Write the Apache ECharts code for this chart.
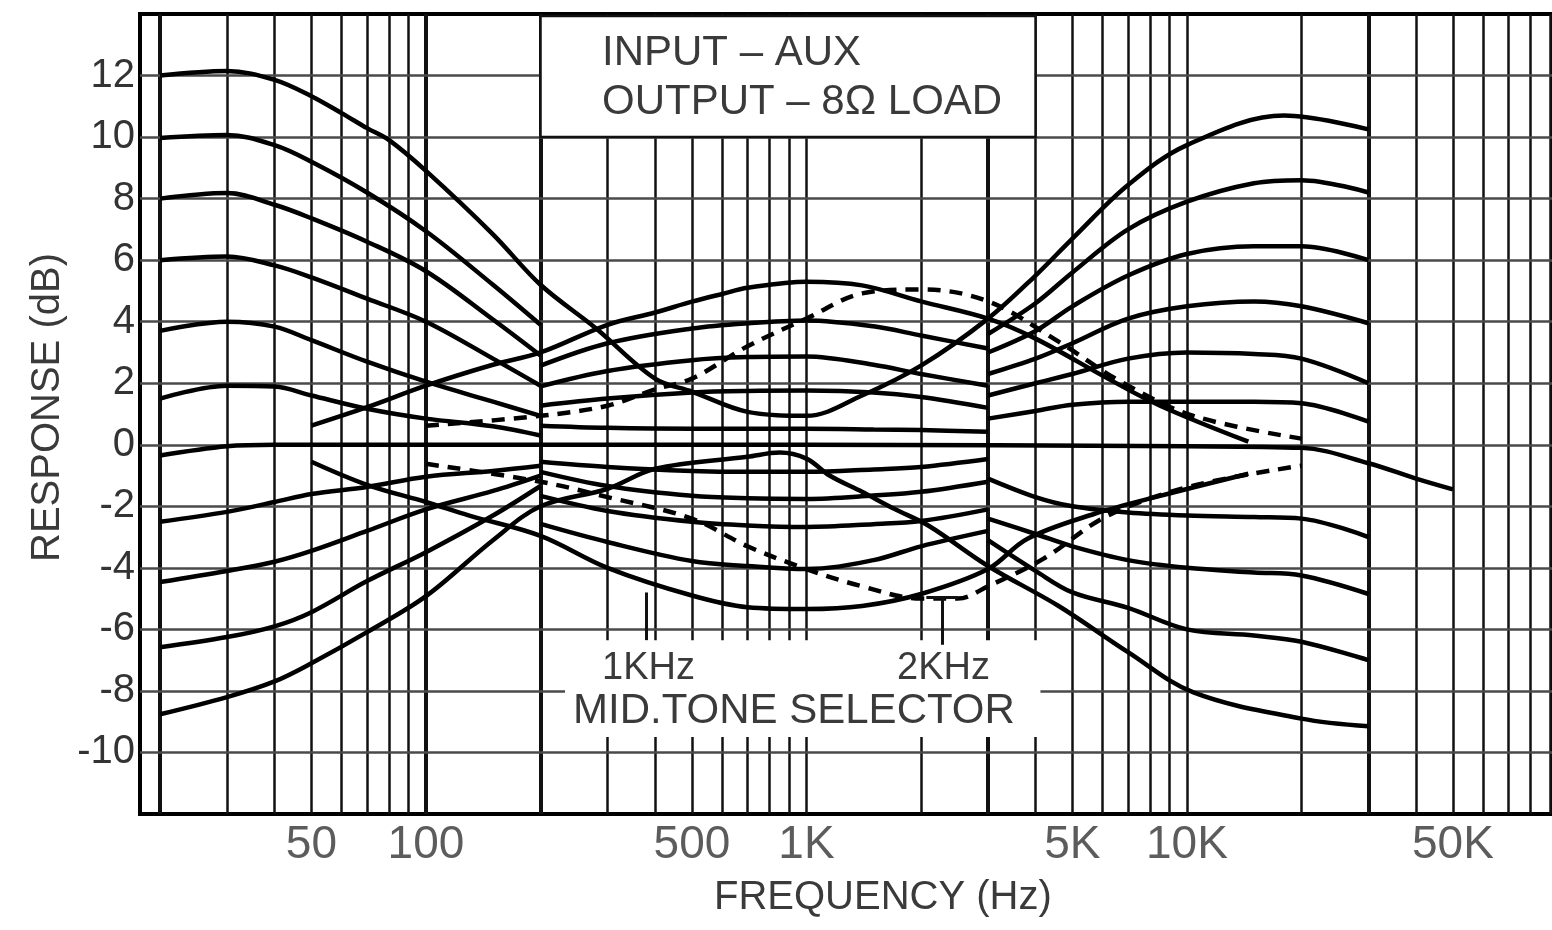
<!DOCTYPE html>
<html><head><meta charset="utf-8">
<script src="https://cdn.jsdelivr.net/npm/echarts@6/dist/echarts.min.js"></script>
<style>html,body{margin:0;padding:0;background:#fff}#c{width:1552px;height:930px}</style>
</head><body><div id="c"></div>
<script>
// ---------- axis / grid data ----------
const xTickValues = [50, 100, 500, 1000, 5000, 10000, 50000];
const xTickLabels = ['50', '100', '500', '1K', '5K', '10K', '50K'];
const gridFreqs = [20,30,40,50,60,70,80,90,100,200,300,400,500,600,700,800,900,1000,
  2000,3000,4000,5000,6000,7000,8000,9000,10000,20000,30000,40000,50000,60000,70000,80000,90000];
const heavyFreqs = [20, 100, 200, 3000, 30000];
const gridDb = [-10,-8,-6,-4,-2,0,2,4,6,8,10,12];

// ---------- bass curves (20 Hz - 200 Hz) ----------
const bassFreqs = [20, 30, 40, 50, 70, 100, 150, 200];
const bassBoost = [
  [9.97, 10.07, 9.74, 9.2, 8.2, 6.94, 5.2, 3.9],
  [8.0, 8.18, 7.8, 7.36, 6.6, 5.64, 4.07, 2.9],
  [6.0, 6.12, 5.83, 5.44, 4.75, 4.0, 2.8, 1.92],
  [3.7, 4.0, 3.84, 3.4, 2.7, 2.05, 1.4, 0.94],
  [1.5, 1.92, 1.89, 1.6, 1.17, 0.85, 0.6, 0.3]
];
const bassCut = [
  [-2.5, -2.18, -1.86, -1.6, -1.37, -1.04, -0.85, -0.68],
  [-4.46, -4.1, -3.8, -3.45, -2.8, -2.1, -1.5, -1.0],
  [-6.58, -6.25, -5.9, -5.44, -4.43, -3.49, -2.3, -1.34]
];

// ---------- mid curves, 1 kHz selector (200 Hz - 3 kHz) ----------
const midFreqs = [200, 300, 500, 700, 1000, 1500, 2000, 3000];
const midBoost = [
  [2.57, 3.3, 3.78, 3.95, 4.04, 3.85, 3.55, 3.13],
  [1.9, 2.4, 2.75, 2.85, 2.87, 2.6, 2.3, 1.92],
  [1.27, 1.5, 1.7, 1.75, 1.76, 1.7, 1.55, 1.2],
  [0.62, 0.55, 0.52, 0.52, 0.52, 0.5, 0.48, 0.42]
];
const midCut = [
  [-0.55, -0.72, -0.85, -0.88, -0.88, -0.8, -0.72, -0.46],
  [-0.88, -1.34, -1.66, -1.74, -1.76, -1.65, -1.53, -1.2],
  [-1.66, -2.15, -2.5, -2.62, -2.67, -2.58, -2.48, -2.1],
  [-2.57, -3.16, -3.78, -3.94, -4.04, -3.75, -3.3, -2.8]
];
const mid1kBoostFreqs = [50, 70, 100, 150, 200, 300, 400, 500, 600, 700, 1000, 1400, 2000, 3000, 4000, 6200, 8500, 14500];
const mid1kBoost = [0.62, 1.22, 1.92, 2.6, 3.0, 3.9, 4.3, 4.65, 4.9, 5.1, 5.3, 5.18, 4.66, 4.1, 3.45, 2.15, 1.27, 0.1];
const mid1kCutFreqs = [50, 70, 100, 130, 200, 300, 500, 700, 1000, 1400, 2000, 3000, 3800, 5700, 8500, 14500];
const mid1kCut = [-0.55, -1.3, -1.86, -2.3, -2.96, -4.0, -4.9, -5.28, -5.34, -5.24, -4.85, -4.04, -3.06, -2.25, -1.66, -0.94];

// ---------- mid curves, 2 kHz selector (dashed) ----------
const mid2kBoostFreqs = [100, 200, 300, 400, 500, 700, 1000, 1400, 2000, 3000, 4600, 6700, 10400, 20000];
const mid2kBoost = [0.62, 0.94, 1.27, 1.8, 2.15, 3.2, 4.1, 4.92, 5.05, 4.66, 3.35, 2.05, 0.94, 0.2];
const mid2kCutFreqs = [100, 200, 300, 500, 700, 1000, 1400, 2000, 2500, 3000, 4200, 6200, 10400, 20000];
const mid2kCut = [-0.62, -1.2, -1.7, -2.4, -3.3, -4.04, -4.6, -5.0, -5.0, -4.6, -3.7, -2.3, -1.33, -0.68];

// ---------- treble curves (3 kHz - 30 kHz) ----------
const trebleFreqs = [3000, 4000, 5000, 7000, 10000, 15000, 20000, 30000];
const trebleBoost = [
  [3.6, 4.6, 5.6, 7.0, 7.9, 8.5, 8.6, 8.2],
  [3.0, 3.7, 4.5, 5.5, 6.2, 6.45, 6.45, 6.0],
  [2.3, 2.8, 3.3, 4.1, 4.5, 4.66, 4.5, 3.95],
  [1.6, 2.0, 2.3, 2.8, 3.0, 2.95, 2.8, 2.0],
  [0.85, 1.1, 1.3, 1.4, 1.4, 1.4, 1.35, 0.75]
];
const trebleCut = [
  [-1.1, -1.7, -2.0, -2.2, -2.3, -2.35, -2.4, -3.0],
  [-2.4, -2.9, -3.3, -3.75, -4.0, -4.15, -4.25, -4.85],
  [-3.1, -4.1, -4.8, -5.3, -6.0, -6.2, -6.4, -7.0]
];

// ---------- full-range curves ----------
const maxBoostFreqs = [20,30,40,50,60,70,80,100,150,200,280,400,500,700,1000,1400,2000,3000,4000,5000,7000,10000,18000,30000];
const maxBoost = [12.0,12.15,11.86,11.33,10.78,10.29,9.9,8.9,6.84,5.2,3.78,2.15,1.73,1.07,0.94,1.6,2.57,4.1,5.5,6.7,8.44,9.74,10.7,10.25];
const maxCutFreqs = [20,30,40,50,70,100,150,200,300,400,700,850,1000,1150,1400,1700,2100,3000,4600,7000,10400,20000,30000];
const maxCut = [-8.76,-8.2,-7.69,-7.1,-6.09,-4.92,-3.1,-2.0,-1.43,-0.78,-0.39,-0.25,-0.45,-1.0,-1.53,-2.08,-2.64,-3.94,-5.24,-6.74,-8.05,-8.9,-9.15];
const flatFreqs = [20, 30, 40, 100, 1000, 10000, 20000, 30000, 40000, 50000];
const flat = [-0.35, -0.05, 0, 0, 0, -0.05, -0.1, -0.6, -1.1, -1.45];

// ---------- annotation anchors ----------
const pointerFreqs = [380, 2270];
const topBox = [[200, 14], [4000, 10]];
const bottomBox = [[232, -6.35], [4120, -9.5]];

// =====================================================
const chart = echarts.init(document.getElementById('c'));
const pairs = (fs, vs) => fs.map((f, i) => [f, vs[i]]);
const FONT = '"Liberation Sans", Arial, sans-serif';

const series = [];
// grid lines (kept at the very bottom of the stack)
series.push({
  type: 'line', data: [], z: 1, silent: true, animation: false,
  markLine: {
    z: 1, symbol: 'none', silent: true, animation: false, label: { show: false },
    data: [
      ...gridFreqs.map(f => ({ xAxis: f, lineStyle: { color: '#111', width: heavyFreqs.includes(f) ? 4 : 2.5, type: 'solid' } })),
      ...gridDb.map(d => ({ yAxis: d, lineStyle: { color: '#4a4a4a', width: 2.5, type: 'solid' } }))
    ]
  }
});

function curve(data, dashed) {
  series.push({
    type: 'line', data, z: 4, smooth: 0.35, showSymbol: false, silent: true, animation: false,
    lineStyle: { color: '#000', width: 4.5, type: dashed ? [13, 9] : 'solid' }
  });
}
bassBoost.forEach(v => curve(pairs(bassFreqs, v)));
bassCut.forEach(v => curve(pairs(bassFreqs, v)));
midBoost.forEach(v => curve(pairs(midFreqs, v)));
midCut.forEach(v => curve(pairs(midFreqs, v)));
trebleBoost.forEach(v => curve(pairs(trebleFreqs, v)));
trebleCut.forEach(v => curve(pairs(trebleFreqs, v)));
curve(pairs(mid1kBoostFreqs, mid1kBoost));
curve(pairs(mid1kCutFreqs, mid1kCut));
curve(pairs(mid2kBoostFreqs, mid2kBoost), true);
curve(pairs(mid2kCutFreqs, mid2kCut), true);
curve(pairs(maxBoostFreqs, maxBoost));
curve(pairs(maxCutFreqs, maxCut));
curve(pairs(flatFreqs, flat));

// selector pointers
series.push({
  type: 'line', data: [], z: 6, silent: true, animation: false,
  markLine: {
    z: 6, symbol: 'none', silent: true, animation: false, label: { show: false },
    lineStyle: { color: '#111', width: 3, type: 'solid' },
    data: [
      [{ coord: [pointerFreqs[0], -4.8] }, { coord: [pointerFreqs[0], -6.35] }],
      [{ coord: [pointerFreqs[1], -4.95] }, { coord: [pointerFreqs[1], -6.5] }],
      [{ coord: [pointerFreqs[1] * 0.91, -4.95] }, { coord: [pointerFreqs[1] * 1.1, -4.95] }]
    ]
  }
});

// x tick labels
series.push({
  type: 'scatter', z: 7, silent: true, animation: false, clip: false,
  symbolSize: 0,
  data: xTickValues.map((v, i) => ({ value: [v, -12], name: xTickLabels[i] })),
  label: {
    show: true, position: 'bottom', distance: 8, formatter: p => p.name,
    fontFamily: FONT, fontSize: 46, color: '#333'
  }
});

chart.setOption({
  animation: false,
  backgroundColor: '#fff',
  grid: { left: 140, right: 0, top: 14, bottom: 116, show: true, borderColor: '#000', borderWidth: 4, backgroundColor: 'transparent' },
  xAxis: {
    type: 'log', logBase: 10, min: 17.72, max: 91070,
    axisLine: { show: false }, axisTick: { show: false }, axisLabel: { show: false }, splitLine: { show: false }
  },
  yAxis: {
    type: 'value', min: -12, max: 14, interval: 2,
    axisLine: { show: false }, axisTick: { show: false }, splitLine: { show: false },
    axisLabel: {
      margin: 5, fontFamily: FONT, fontSize: 40, color: '#333',
      formatter: v => (v <= -12 || v >= 14) ? '' : (v < 0 ? '-' + (-v) : String(v))
    }
  },
  series
});

// label boxes (white) and annotation texts
const px = v => chart.convertToPixel({ gridIndex: 0 }, v);
const t1 = px(topBox[0]), t2 = px(topBox[1]);
const b1 = px(bottomBox[0]), b2 = px(bottomBox[1]);
const textStyle = (txt, size) => ({ text: txt, font: size + 'px ' + FONT, fill: '#3a3a3a' });
chart.setOption({
  graphic: [
    { type: 'rect', z: 3, silent: true, shape: { x: t1[0], y: t1[1] + 2, width: t2[0] - t1[0], height: t2[1] - t1[1] - 2 },
      style: { fill: '#fff', stroke: '#111', lineWidth: 2.5 } },
    { type: 'rect', z: 3, silent: true, shape: { x: b1[0], y: b1[1], width: b2[0] - b1[0], height: b2[1] - b1[1] },
      style: { fill: '#fff', lineWidth: 0 } },
    { type: 'text', left: 602, top: 32, z: 10, style: textStyle('INPUT – AUX', 42) },
    { type: 'text', left: 602, top: 81, z: 10, style: textStyle('OUTPUT – 8Ω LOAD', 42) },
    { type: 'text', left: 602, top: 650, z: 10, style: textStyle('1KHz', 38) },
    { type: 'text', left: 897, top: 650, z: 10, style: textStyle('2KHz', 38) },
    { type: 'text', left: 573, top: 690, z: 10, style: textStyle('MID.TONE SELECTOR', 42) },
    { type: 'text', left: 714, top: 878, z: 10, style: textStyle('FREQUENCY (Hz)', 40) },
    { type: 'text', x: 28, y: 562, rotation: Math.PI / 2, z: 10, style: textStyle('RESPONSE (dB)', 40) }
  ]
});
</script></body></html>
